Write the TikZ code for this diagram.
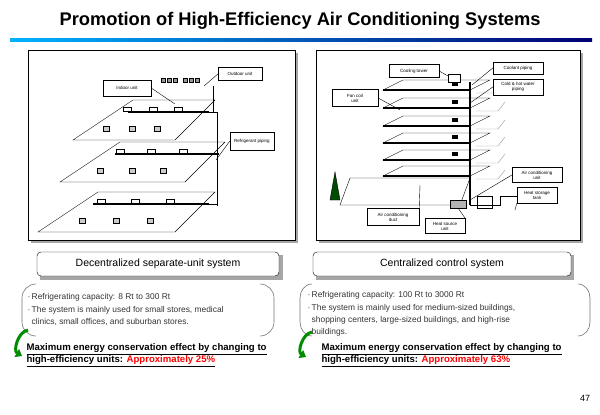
\documentclass[tikz,border=0pt]{standalone}
\usepackage{fontspec}
\setmainfont{Liberation Sans}
\usetikzlibrary{arrows.meta}

\newcommand{\itemdot}{\textperiodcentered\,}
\newcommand{\itemgap}{\phantom{\textperiodcentered\,}}

\tikzset{
  callout/.style={draw, fill=white, font=\fontsize{4.5}{5}\selectfont, align=center, inner sep=1.5pt},
  titlebox/.style={draw, rounded corners=4pt, fill=white, minimum width=242pt, minimum height=24pt,
    font=\fontsize{10.5}{12}\selectfont},
  floor/.style={draw, fill=white, line width=0.4pt},
  pipe/.style={line width=1.4pt},
  bodytext/.style={anchor=north west, align=left, font=\fontsize{8.4}{12.4}\selectfont, text=black!80},
  effect/.style={anchor=west, font=\fontsize{9.6}{11}\selectfont\bfseries},
  bracket/.style={draw=black!55, line width=0.6pt},
  greenarrow/.style={draw=green!55!black, line width=3pt, -{Triangle[length=6pt,width=9pt]}}
}

\begin{document}
\begin{tikzpicture}[x=1pt, y=-1pt]
\useasboundingbox (0,0) rectangle (600,415);

% title
\node (title) at (300,21) {\fontsize{18.3}{22}\selectfont\bfseries Promotion of High-Efficiency Air Conditioning Systems};
\shade[left color=cyan!70!blue, right color=blue!45!black] (10,38) rectangle (592,41);

% picture frames
\fill[black!35] (31,53) rectangle (298,243);
\draw[fill=white] (28,50) rectangle (295,240);
\fill[black!35] (319,53) rectangle (583,243);
\draw[fill=white] (316,50) rectangle (580,240);

% left picture: three floors
\foreach \y/\a/\b in {140/73/175, 182/60/185, 232/38/175} {
  \draw[floor] (\a,\y) -- (\b,\y) -- (\b+40,\y-40) -- (\a+60,\y-40) -- cycle;
  \draw[pipe] (\a+55,\y-28) -- (\b+34,\y-28);
  \foreach \u in {0.25,0.5,0.75}
    \draw[fill=white] ({\a+(\b-\a)*\u+25},\y-33) rectangle +(8,4);
  \foreach \u in {0.3,0.55,0.8}
    \draw[fill=black!20] ({\a+(\b-\a)*\u},\y-14) rectangle +(6,5);
}
\foreach \x in {161,167,173,183,189,195} \draw[fill=black!40] (\x,78) rectangle +(4,4);
\draw[line width=0.8pt] (213,86) -- (213,112) -- (217,112) -- (217,206);
\foreach \y in {112,154,204} \draw (207,\y) -- (217,\y);

\node[callout, minimum width=44pt, minimum height=13pt] (outdoor) at (240,74) {Outdoor unit};
\node[callout, minimum width=48pt, minimum height=16pt] (indoor) at (127,88) {Indoor unit};
\node[callout, minimum width=44pt, minimum height=18pt] (refpipe) at (252,141) {Refrigerant piping};
\coordinate (outdoor-end) at (204,86);
\coordinate (indoor-end) at (175,104);
\coordinate (refpipe-end) at (216,160);
\draw (outdoor.west) -- (outdoor-end);
\draw (indoor.east) -- (indoor-end);
\draw (refpipe.west) -- (refpipe-end);

% right picture: building
\draw[floor] (340,205) -- (460,205) -- (470,178) -- (350,178) -- cycle;
\foreach \y in {90,108,126,143,160,176} {
  \draw[floor] (383,\y) -- (470,\y) -- (490,\y-10) -- (403,\y-10) -- cycle;
  \draw[pipe] (383,\y) -- (470,\y);
  \draw[black!40] (476,\y+3) -- (498,\y+3) -- (505,\y-6);
}
\foreach \y in {88,106,124,141,158} \draw[fill=black] (452,\y-6) rectangle +(5,3);
\draw[pipe] (470,82) -- (470,205);
\draw[line width=0.8pt] (470,205) -- (500,205) -- (500,196) -- (530,196);
\draw[fill=white] (448,74) rectangle (460,82);
\draw[fill=black!30] (450,200) rectangle (466,208);
\draw[fill=green!30!black] (330,200) -- (335,172) -- (340,200) -- cycle;
\draw (477,196) rectangle (492,208);

\node[callout, minimum width=50pt, minimum height=13pt] (tower) at (414,71) {Cooling tower};
\node[callout, minimum width=50pt, minimum height=12pt] (coolant) at (518,68) {Coolant piping};
\node[callout, minimum width=50pt, minimum height=16pt] (water) at (518,87) {Cold \& hot water\\piping};
\node[callout, minimum width=46pt, minimum height=17pt] (fancoil) at (355,98) {Fan coil\\unit};
\node[callout, minimum width=50pt, minimum height=15pt] (acunit) at (537,175) {Air conditioning\\unit};
\node[callout, minimum width=40pt, minimum height=16pt] (tank) at (537,195) {Heat storage\\tank};
\node[callout, minimum width=52pt, minimum height=17pt] (duct) at (393,217) {Air conditioning\\duct};
\node[callout, minimum width=40pt, minimum height=15pt] (source) at (445,226) {Heat source\\unit};
\coordinate (tower-end) at (448,76);
\coordinate (coolant-end) at (472,85);
\coordinate (water-end) at (470,103);
\coordinate (fancoil-end) at (400,110);
\coordinate (acunit-end) at (470,200);
\coordinate (tank-end) at (515,210);
\coordinate (duct-end) at (420,185);
\coordinate (source-end) at (458,208);
\draw (tower.east) -- (tower-end);
\draw (coolant.west) -- (coolant-end);
\draw (water.west) -- (water-end);
\draw (fancoil.east) -- (fancoil-end);
\draw (acunit.west) -- (acunit-end);
\draw (tank.south west) -- (tank-end);
\draw (duct.north east) -- (duct-end);
\draw (source.north east) -- (source-end);

% system titles
\fill[black!35] (40,255) rectangle (283,280);
\node[titlebox] (decentral) at (158,264) {Decentralized separate-unit system};
\fill[black!35] (316,255) rectangle (574,280);
\node[titlebox, minimum width=258pt] (central) at (442,264) {Centralized control system};

% description brackets
\draw[bracket] (36,284) to[out=180,in=90] (22,298) -- (22,322) to[out=-90,in=180] (36,336);
\draw[bracket] (260,284) to[out=0,in=90] (274,298) -- (274,322) to[out=-90,in=0] (260,336);
\draw[bracket] (312,284) to[out=180,in=90] (300,298) -- (300,322) to[out=-90,in=180] (312,336);
\draw[bracket] (578,284) to[out=0,in=90] (590,298) -- (590,322) to[out=-90,in=0] (578,336);

\node[bodytext] (lefttext) at (24,290) {%
  \itemdot Refrigerating capacity: 8 Rt to 300 Rt\\
  \itemdot The system is mainly used for small stores, medical\\
  \itemgap clinics, small offices, and suburban stores.};
\node[bodytext] (righttext) at (304,288) {%
  \itemdot Refrigerating capacity: 100 Rt to 3000 Rt\\
  \itemdot The system is mainly used for medium-sized buildings,\\
  \itemgap shopping centers, large-sized buildings, and high-rise\\
  \itemgap buildings.};

% green arrows
\draw[greenarrow] (28,330) to[out=190,in=150] (22,356);
\draw[greenarrow] (312,332) to[out=190,in=150] (306,357);

% effects
\node[effect] (lefteffect) at (23,349) {\underline{Maximum energy conservation effect by changing to}};
\node[effect] (lefteffect2) at (23,361) {\underline{high-efficiency units: \textcolor{red}{Approximately 25\%}}};
\node[effect] (righteffect) at (318,349) {\underline{Maximum energy conservation effect by changing to}};
\node[effect] (righteffect2) at (318,361) {\underline{high-efficiency units: \textcolor{red}{Approximately 63\%}}};

\node (page) at (585,398) {\fontsize{9}{10}\selectfont 47};
\end{tikzpicture}
\end{document}
